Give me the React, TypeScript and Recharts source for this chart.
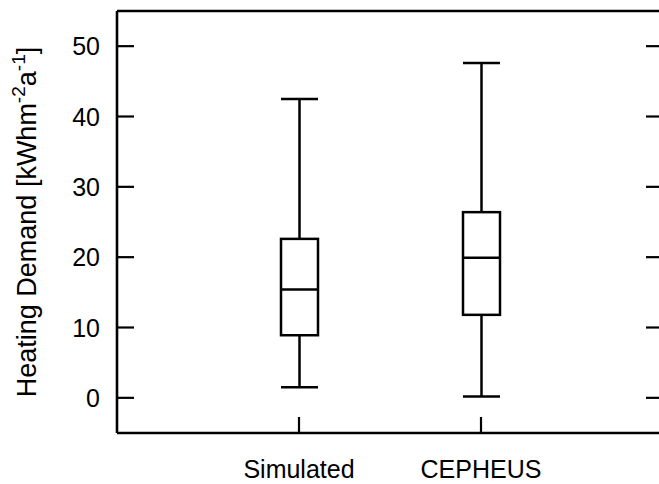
import React from 'react';
import { ComposedChart, Bar, XAxis, YAxis, Label } from 'recharts';

const categories = ['Simulated', 'CEPHEUS'];
const minValues = [1.5, 0.2];
const q1Values = [8.9, 11.8];
const medianValues = [15.4, 19.9];
const q3Values = [22.6, 26.4];
const maxValues = [42.5, 47.6];
const yTicks = [0, 10, 20, 30, 40, 50];

const data = categories.map((name, i) => ({
  name,
  box: [q1Values[i], q3Values[i]],
  min: minValues[i],
  q1: q1Values[i],
  median: medianValues[i],
  q3: q3Values[i],
  max: maxValues[i],
}));

const FONT = '"Liberation Sans", Arial, Helvetica, sans-serif';
const TICK_LEN = 17;
const FRAME = { stroke: '#000', strokeWidth: 2.6 };

const LeftTick = (props: any) => {
  const { x, y, payload } = props;
  return (
    <g>
      <line x1={x} x2={x + TICK_LEN} y1={y} y2={y} stroke="#000" strokeWidth={2.2} />
      <text x={x - 17} y={y} dy={9} textAnchor="end" fontSize={25} fontFamily={FONT} fill="#000">
        {payload.value}
      </text>
    </g>
  );
};

const RightTick = (props: any) => {
  const { x, y } = props;
  return <line x1={x} x2={x - TICK_LEN} y1={y} y2={y} stroke="#000" strokeWidth={2.2} />;
};

const BottomTick = (props: any) => {
  const { x, y, payload } = props;
  return (
    <g>
      <line x1={x} x2={x} y1={y} y2={y - 16} stroke="#000" strokeWidth={2.2} />
      <text x={x} y={y + 45} textAnchor="middle" fontSize={25} fontFamily={FONT} fill="#000">
        {payload.value}
      </text>
    </g>
  );
};

// box drawn from the q1..q3 range bar; whiskers and median use the same pixel scale
const BoxShape = (props: any) => {
  const { x, y, width, height, payload } = props;
  const top = Math.min(y, y + height);
  const h = Math.abs(height);
  const k = h / (payload.q3 - payload.q1);
  const py = (v: number) => top + (payload.q3 - v) * k;
  const cx = x + width / 2;
  const sw = 2.5;
  return (
    <g stroke="#000" strokeWidth={sw} fill="none">
      <line x1={cx} x2={cx} y1={py(payload.max)} y2={top} />
      <line x1={cx} x2={cx} y1={top + h} y2={py(payload.min)} />
      <line x1={x} x2={x + width} y1={py(payload.max)} y2={py(payload.max)} />
      <line x1={x} x2={x + width} y1={py(payload.min)} y2={py(payload.min)} />
      <rect x={x} y={top} width={width} height={h} fill="#fff" />
      <line x1={x} x2={x + width} y1={py(payload.median)} y2={py(payload.median)} />
    </g>
  );
};

const YLabel = (props: any) => {
  const vb = props.viewBox || { x: 0, y: 11, width: 117, height: 422 };
  const cx = vb.x + 36;
  const cy = vb.y + vb.height / 2;
  return (
    <text
      transform={`translate(${cx},${cy}) rotate(-90)`}
      textAnchor="middle"
      fontSize={27}
      fontFamily={FONT}
      fill="#000"
    >
      <tspan>Heating Demand [kWhm</tspan>
      <tspan fontSize={19} dy={-11}>-2</tspan>
      <tspan dy={11}>a</tspan>
      <tspan fontSize={19} dy={-11}>-1</tspan>
      <tspan dy={11}>]</tspan>
    </text>
  );
};

export default function App() {
  return (
    <div style={{ position: 'absolute', left: 0, top: 0, width: 659, height: 484, overflow: 'hidden', background: '#fff' }}>
      <ComposedChart width={664} height={484} data={data} margin={{ top: 10, right: 0, bottom: 0, left: 0 }}>
        <XAxis
          xAxisId="bottom"
          dataKey="name"
          height={51}
          padding={{ left: 91, right: 91 }}
          axisLine={FRAME}
          tickLine={false}
          tickSize={0}
          tickMargin={0}
          tick={<BottomTick />}
          interval={0}
        />
        <XAxis
          xAxisId="top"
          orientation="top"
          dataKey="name"
          height={1}
          padding={{ left: 91, right: 91 }}
          axisLine={FRAME}
          tickLine={false}
          tick={false}
        />
        <YAxis
          yAxisId="left"
          width={117}
          domain={[-5, 55]}
          ticks={yTicks}
          type="number"
          allowDataOverflow
          axisLine={FRAME}
          tickLine={false}
          tickSize={0}
          tickMargin={0}
          tick={<LeftTick />}
          interval={0}
        >
          <Label content={<YLabel />} />
        </YAxis>
        <YAxis
          yAxisId="right"
          orientation="right"
          width={1}
          domain={[-5, 55]}
          ticks={yTicks}
          type="number"
          allowDataOverflow
          axisLine={FRAME}
          tickLine={false}
          tickSize={0}
          tickMargin={0}
          tick={<RightTick />}
          interval={0}
        />
        <Bar
          xAxisId="bottom"
          yAxisId="left"
          dataKey="box"
          barSize={37}
          shape={<BoxShape />}
          isAnimationActive={false}
        />
      </ComposedChart>
    </div>
  );
}
